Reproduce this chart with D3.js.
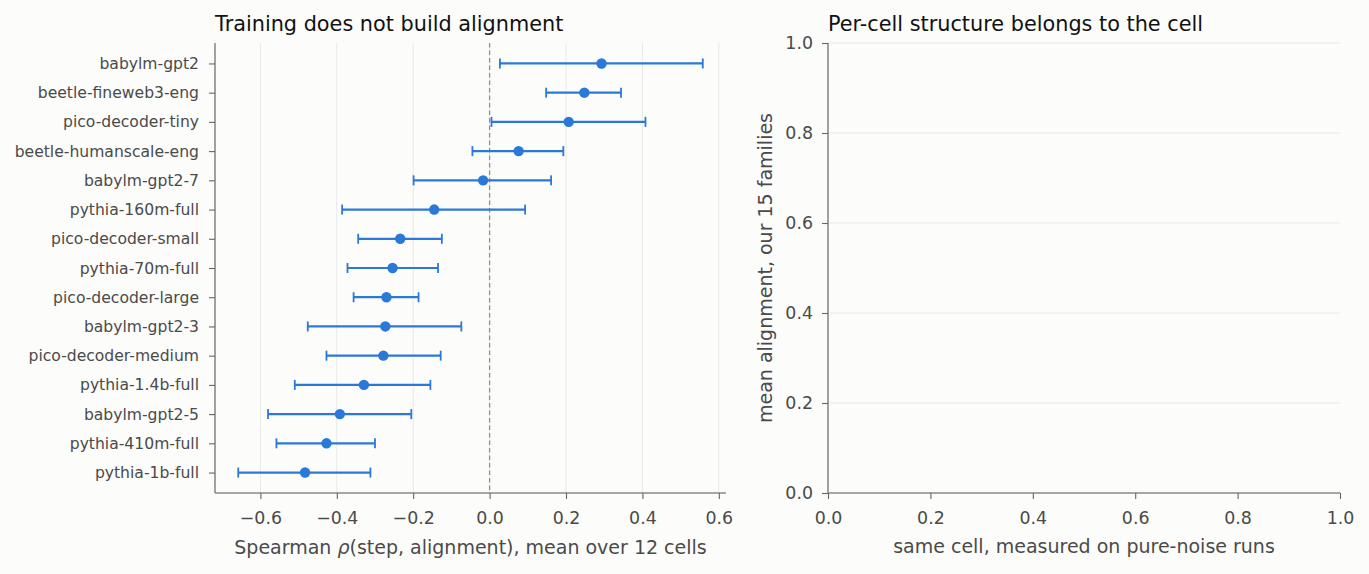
<!DOCTYPE html>
<html>
<head>
<meta charset="utf-8">
<script src="https://cdn.jsdelivr.net/npm/d3@7"></script>
<style>
  body { margin: 0; background: #fcfcfb; }
  svg { display: block; }
  text { font-family: "DejaVu Sans", sans-serif; }
</style>
</head>
<body>
<div id="fig"></div>
<script>
// families, top to bottom
const families = [
  "babylm-gpt2", "beetle-fineweb3-eng", "pico-decoder-tiny", "beetle-humanscale-eng",
  "babylm-gpt2-7", "pythia-160m-full", "pico-decoder-small", "pythia-70m-full",
  "pico-decoder-large", "babylm-gpt2-3", "pico-decoder-medium", "pythia-1.4b-full",
  "babylm-gpt2-5", "pythia-410m-full", "pythia-1b-full"
];
const rhoMean = [0.293, 0.248, 0.207, 0.076, -0.017, -0.145, -0.234, -0.254,
  -0.270, -0.273, -0.278, -0.329, -0.392, -0.427, -0.483];
const rhoLo = [0.027, 0.148, 0.005, -0.045, -0.199, -0.386, -0.344, -0.372,
  -0.356, -0.476, -0.427, -0.510, -0.580, -0.558, -0.658];
const rhoHi = [0.558, 0.344, 0.408, 0.193, 0.161, 0.093, -0.125, -0.135,
  -0.186, -0.074, -0.128, -0.155, -0.205, -0.300, -0.312];

const xTicksLeft = [-0.6, -0.4, -0.2, 0.0, 0.2, 0.4, 0.6];
const unitTicks = [0.0, 0.2, 0.4, 0.6, 0.8, 1.0];

const W = 1369, H = 574;
const blue = "#2a78d8", spine = "#8a8a8a", tickText = "#4a4a4a", grid = "#e8e8e8";
const fsTick = 17.4, fsYTick = 15.6, fsLabel = 19, fsTitle = 20.8;

const svg = d3.select("#fig").append("svg")
  .attr("width", W).attr("height", H);
svg.append("rect").attr("width", W).attr("height", H).attr("fill", "#fcfcfb");

function styleAxis(a, isX, box, fs, pad) {
  a.select(".domain").attr("stroke", spine).attr("stroke-width", 1.6)
    .attr("d", isX ? `M${box.left},0H${box.right}` : `M0,${box.top}V${box.bottom}`);
  a.selectAll(".tick line").attr("stroke", "#666").attr("stroke-width", 1.1);
  const t = a.selectAll(".tick text").attr("fill", tickText)
    .attr("font-size", fs).attr("font-family", "DejaVu Sans");
  if (isX) t.attr("y", 31).attr("dy", 0);
  else t.attr("x", -pad);
}

// ---------- left panel ----------
const L = { left: 215, right: 726, top: 43, bottom: 493 };
const lo = d3.min(rhoLo), hi = d3.max(rhoHi), pad = (hi - lo) * 0.05;
const x1 = d3.scaleLinear().domain([lo - pad, hi + pad]).range([L.left, L.right]);
const y1 = d3.scaleLinear().domain([-0.7, families.length - 0.3]).range([L.top, L.bottom]);

const g1 = svg.append("g");

// vertical grid
g1.selectAll("line.grid").data(xTicksLeft).enter().append("line")
  .attr("x1", d => x1(d)).attr("x2", d => x1(d))
  .attr("y1", L.top).attr("y2", L.bottom)
  .attr("stroke", grid).attr("stroke-width", 1);

// zero line
g1.append("line")
  .attr("x1", x1(0)).attr("x2", x1(0)).attr("y1", L.top).attr("y2", L.bottom)
  .attr("stroke", "#909090").attr("stroke-width", 1.3).attr("stroke-dasharray", "4.5,3");

// error bars
const rows = families.map((f, i) => ({ f, i, m: rhoMean[i], lo: rhoLo[i], hi: rhoHi[i] }));
const eb = g1.selectAll("g.eb").data(rows).enter().append("g");
eb.append("line")
  .attr("x1", d => x1(d.lo)).attr("x2", d => x1(d.hi))
  .attr("y1", d => y1(d.i)).attr("y2", d => y1(d.i))
  .attr("stroke", blue).attr("stroke-width", 2.2);
eb.append("line")
  .attr("x1", d => x1(d.lo)).attr("x2", d => x1(d.lo))
  .attr("y1", d => y1(d.i) - 5).attr("y2", d => y1(d.i) + 5)
  .attr("stroke", blue).attr("stroke-width", 1.8);
eb.append("line")
  .attr("x1", d => x1(d.hi)).attr("x2", d => x1(d.hi))
  .attr("y1", d => y1(d.i) - 5).attr("y2", d => y1(d.i) + 5)
  .attr("stroke", blue).attr("stroke-width", 1.8);
eb.append("circle")
  .attr("cx", d => x1(d.m)).attr("cy", d => y1(d.i)).attr("r", 5.2)
  .attr("fill", blue);

// axes
const xa1 = g1.append("g").attr("transform", `translate(0,${L.bottom})`)
  .call(d3.axisBottom(x1).tickValues(xTicksLeft).tickSize(6)
    .tickFormat(d => d3.format(".1f")(d).replace("-", "\u2212")));
const ya1 = g1.append("g").attr("transform", `translate(${L.left},0)`)
  .call(d3.axisLeft(y1).tickValues(d3.range(families.length)).tickSize(6)
    .tickFormat(i => families[i]));
styleAxis(xa1, true, L, fsTick);
styleAxis(ya1, false, L, fsYTick, 16);

g1.append("text").attr("x", L.left).attr("y", 31)
  .attr("font-size", fsTitle).attr("fill", "#111").text("Training does not build alignment");

const xl = g1.append("text").attr("x", (L.left + L.right) / 2).attr("y", 554)
  .attr("text-anchor", "middle").attr("font-size", fsLabel).attr("fill", tickText);
xl.append("tspan").text("Spearman ");
xl.append("tspan").attr("font-style", "italic").text("\u03c1");
xl.append("tspan").text("(step, alignment), mean over 12 cells");

// ---------- right panel ----------
const R = { left: 828, right: 1340, top: 43, bottom: 493 };
const x2 = d3.scaleLinear().domain([0, 1]).range([R.left, R.right]);
const y2 = d3.scaleLinear().domain([0, 1]).range([R.bottom, R.top]);
const g2 = svg.append("g");

g2.selectAll("line.grid").data(unitTicks.slice(1)).enter().append("line")
  .attr("x1", R.left).attr("x2", R.right)
  .attr("y1", d => y2(d)).attr("y2", d => y2(d))
  .attr("stroke", grid).attr("stroke-width", 1);

const xa2 = g2.append("g").attr("transform", `translate(0,${R.bottom})`)
  .call(d3.axisBottom(x2).tickValues(unitTicks).tickSize(6).tickFormat(d3.format(".1f")));
const ya2 = g2.append("g").attr("transform", `translate(${R.left},0)`)
  .call(d3.axisLeft(y2).tickValues(unitTicks).tickSize(6).tickFormat(d3.format(".1f")));
styleAxis(xa2, true, R, fsTick);
styleAxis(ya2, false, R, fsTick, 15);

g2.append("text").attr("x", R.left).attr("y", 31)
  .attr("font-size", fsTitle).attr("fill", "#111").text("Per-cell structure belongs to the cell");

g2.append("text").attr("x", (R.left + R.right) / 2).attr("y", 553)
  .attr("text-anchor", "middle").attr("font-size", fsLabel).attr("fill", tickText)
  .text("same cell, measured on pure-noise runs");

g2.append("text")
  .attr("transform", `translate(772,${(R.top + R.bottom) / 2}) rotate(-90)`)
  .attr("text-anchor", "middle").attr("font-size", fsLabel).attr("fill", tickText)
  .text("mean alignment, our 15 families");
</script>
</body>
</html>
